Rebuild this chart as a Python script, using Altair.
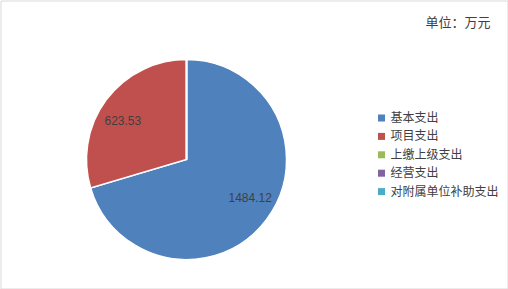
import altair as alt
import pandas as pd

categories = ["基本支出", "项目支出", "上缴上级支出", "经营支出", "对附属单位补助支出"]
values = [1484.12, 623.53, 0, 0, 0]
labels = ["1484.12", "623.53", "", "", ""]
colors = ["#4F81BD", "#C0504D", "#9BBB59", "#8064A2", "#4BACC6"]
unit_text = "单位：万元"

df = pd.DataFrame({
    "category": categories,
    "value": values,
    "label": labels,
    "order": list(range(len(categories))),
})

cx, cy = 186, 159
label_shift = -0.096  # small angular shift of data labels (radians)

pie = alt.Chart(df).mark_arc(outerRadius=100, stroke="white", strokeWidth=1.5).encode(
    theta=alt.Theta("value:Q", stack=True),
    order=alt.Order("order:Q"),
    color=alt.Color(
        "category:N",
        scale=alt.Scale(domain=categories, range=colors),
        sort=categories,
        legend=alt.Legend(
            title=None,
            orient="none",
            legendX=375,
            legendY=111.5,
            symbolType="square",
            symbolSize=49,
            symbolStrokeWidth=0,
            labelFont="Noto Sans CJK SC",
            labelFontSize=12,
            labelColor="#404040",
            labelOffset=3,
            rowPadding=6.4,
            padding=0,
        ),
    ),
    x=alt.value(cx),
    y=alt.value(cy),
)

text = alt.Chart(df).transform_window(
    cum="sum(value)", sort=[alt.SortField("order")]
).transform_joinaggregate(
    total="sum(value)"
).transform_calculate(
    mid=f"2*PI*(datum.cum - datum.value/2)/datum.total + ({label_shift})"
).transform_filter(
    "datum.value > 0"
).mark_text(
    radius=74.5,
    font="Liberation Sans",
    fontSize=12,
    color="#404040",
).encode(
    theta=alt.Theta("mid:Q", scale=None),
    text="label:N",
    x=alt.value(cx),
    y=alt.value(cy),
)

unit = alt.Chart(pd.DataFrame({"t": [unit_text]})).mark_text(
    align="right",
    baseline="middle",
    font="Noto Sans CJK SC",
    fontSize=13,
    color="#404040",
).encode(
    text="t:N",
    x=alt.value(490),
    y=alt.value(22),
)

chart = alt.layer(pie, text, unit).properties(
    width=507,
    height=288,
    padding=0.5,
    autosize=alt.AutoSizeParams(type="none"),
    background="white",
).configure_view(
    stroke="#D9D9D9",
    strokeWidth=1,
)

chart.save("out.html", embed_options={"renderer": "svg", "actions": False})
